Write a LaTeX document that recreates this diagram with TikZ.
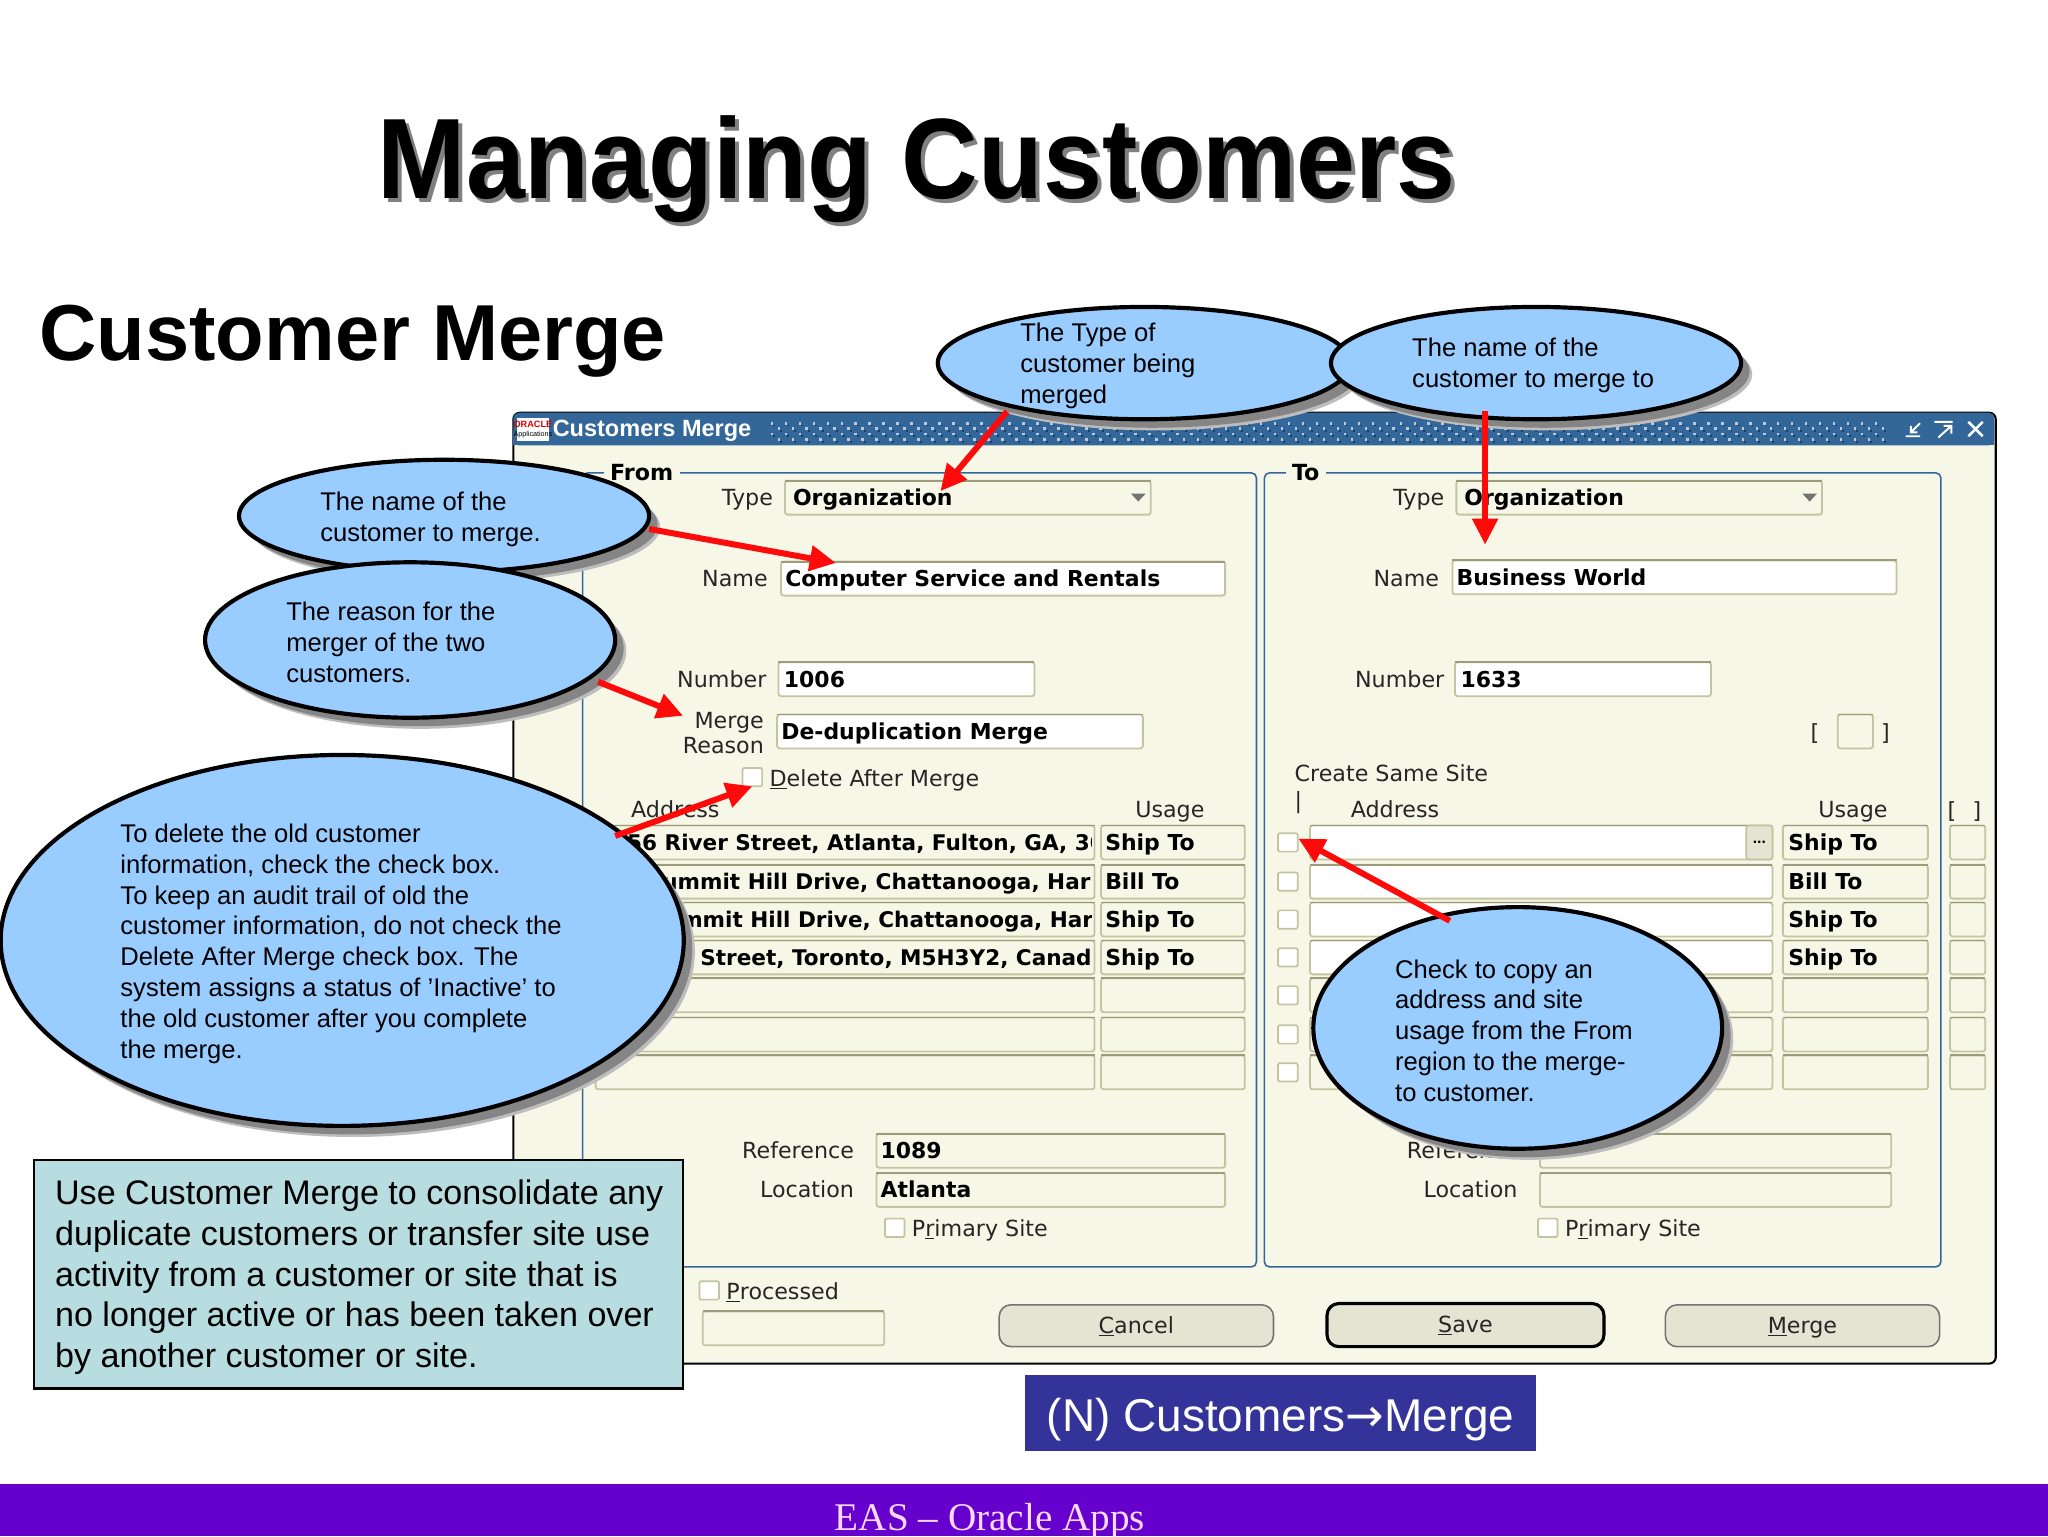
\documentclass[tikz,border=0pt]{standalone}
\usepackage{fontspec}
\setmainfont{Liberation Sans}
\newfontfamily\uifont{DejaVu Sans}
\newfontfamily\serfont{Liberation Serif}
\usetikzlibrary{shapes.geometric,arrows.meta,shadows}
\definecolor{dlg}{HTML}{F7F7E7}
\definecolor{barblue}{HTML}{336699}
\definecolor{fieldedge}{HTML}{C4C4A0}
\definecolor{fieldtopc}{HTML}{9C9C7C}
\definecolor{callblue}{HTML}{99CCFF}
\definecolor{shadowc}{HTML}{858585}
\definecolor{shadowl}{HTML}{BDBDBD}
\definecolor{notec}{HTML}{B7DDE0}
\definecolor{navc}{HTML}{333399}
\definecolor{footc}{HTML}{6600CC}
\definecolor{foott}{HTML}{FFD9FF}
\definecolor{btnc}{HTML}{E4E4D2}
\definecolor{arrowred}{HTML}{FF0A0A}
\tikzset{
  fieldbox/.style={draw=fieldedge,line width=1.4pt,rounded corners=2pt,inner sep=0pt,outer sep=0pt},
  fieldtop/.style={draw=fieldtopc,line width=1.4pt},
  lab/.style={font=\uifont\fontsize{17}{19}\selectfont,text=black!85,inner sep=0pt,anchor=base east},
  labl/.style={lab,anchor=base west},
  val/.style={font=\uifont\bfseries\fontsize{16.8}{19}\selectfont,text=black,inner sep=0pt,anchor=base west},
  rowval/.style={val,font=\uifont\bfseries\fontsize{16.5}{19}\selectfont},
  chk/.style={draw=fieldedge,line width=1.3pt,fill=white,inner sep=0pt,minimum width=15pt,minimum height=14pt,rounded corners=1pt},
  groupbox/.style={draw=barblue,line width=1.2pt,rounded corners=4pt},
  legend/.style={font=\uifont\bfseries\fontsize{17}{19}\selectfont,fill=dlg,inner xsep=5pt,inner ysep=1pt,anchor=base west},
  callout/.style={ellipse,draw=black,line width=3.2pt,fill=callblue,inner sep=0pt,
    general shadow={fill=shadowl,shadow xshift=8.5pt,shadow yshift=-8.5pt},
    general shadow={fill=shadowc,shadow xshift=6.5pt,shadow yshift=-6.5pt}},
  calltext/.style={font=\fontsize{19.6}{23.6}\selectfont,align=left,inner sep=0pt,anchor=west},
  redarrow/.style={draw=arrowred,fill=arrowred,line width=4.6pt,-{Triangle[length=20pt,width=19pt]}},
  btn/.style={draw=black!55,line width=1.2pt,fill=btnc,rounded corners=9pt,inner sep=0pt,minimum height=32pt,minimum width=210pt},
  btntext/.style={lab,anchor=base}
}
\newcommand{\fld}[6]{%
  \node[fieldbox,fill=#6,minimum width={(#4)-(#2)},minimum height={(#5)-(#3)}] (#1) at ({(#2+#4)/2},{(#3+#5)/2}) {};
  \draw[fieldtop] (#1.north west) -- (#1.north east);}
\begin{document}
\begin{tikzpicture}[x=1pt,y=-1pt]
\useasboundingbox (0,0) rectangle (1568,1176);
\fill[white] (0,0) rectangle (1568,1176);
% footer
\fill[footc] (0,1136) rectangle (1568,1176);
\node[font=\serfont\fontsize{30}{34}\selectfont,text=foott,inner sep=0pt,anchor=base] (foot) at (758,1172) {EAS – Oracle Apps};
% titles
\node[font=\bfseries\fontsize{85}{90}\selectfont,text=black!50,inner sep=0pt,anchor=base west,xscale=0.955,yscale=1.03,transform shape] (titleshadow) at (292,155) {Managing Customers};
\node[font=\bfseries\fontsize{85}{90}\selectfont,text=black,inner sep=0pt,anchor=base west,xscale=0.955,yscale=1.03,transform shape] (title) at (289,152) {Managing Customers};
\node[font=\bfseries\fontsize{60.8}{64}\selectfont,inner sep=0pt,anchor=base west] (sub) at (30,276) {Customer Merge};
% dialog
\draw[black,line width=1.6pt,fill=dlg,rounded corners=5pt] (393,316) rectangle (1528,1044);
\fill[barblue,rounded corners=4pt] (393,316) rectangle (1527,341);
\fill[barblue] (393,330) rectangle (1527,341);
\foreach \r in {0,1,2,3}{
  \pgfmathsetmacro{\off}{mod(\r,2)*5.3}
  \foreach \k in {0,...,79}{
    \fill[white!65!barblue] ({590+\off+\k*10.7},{323+\r*4.2}) rectangle ++(2,2);
    \fill[barblue!60!black] ({592+\off+\k*10.7},{325+\r*4.2}) rectangle ++(1.5,1.5);
  }
}
\fill[white] (396,320) rectangle (420,338);
\node[font=\bfseries\fontsize{7}{8}\selectfont,text=red!85!black,inner sep=0pt] (logo) at (408,325) {ORACLE};
\node[font=\fontsize{5.5}{6}\selectfont,text=black,inner sep=0pt] (logob) at (408,333) {Applications};
\node[font=\bfseries\fontsize{18}{20}\selectfont,text=white,inner sep=0pt,anchor=base west] (wintitle) at (423,334) {Customers Merge};
\draw[white,line width=1.5pt] (1459,334) -- (1470,334) (1470,324) -- (1463,331) (1463,326) -- (1463,331) -- (1468,331);
\draw[white,line width=1.5pt] (1481,323) -- (1495,323) (1494,326) -- (1484,335) (1488,326) -- (1494,326) -- (1494,332);
\draw[white,line width=2pt] (1507,323) -- (1518,334) (1518,323) -- (1507,334);
% groups
\draw[groupbox] (446,362) rectangle (962,970);
\draw[groupbox] (968,362) rectangle (1486,970);
\node[legend] (lfrom) at (462,368) {From};
\node[legend] (lto) at (984,368) {To};
% From fields
\node[lab] (ftypel) at (592,387) {Type};
\fld{ftype}{601}{368}{881}{394}{dlg}
\node[val] (ftypev) at (607,387) {Organization};
\fill[black!55] (866,378) -- (877,378) -- (871.5,384) -- cycle;
\node[lab] (fnamel) at (588,449) {Name};
\fld{fname}{598}{430}{938}{456}{white}
\node[val] (fnamev) at (601,449) {Computer Service and Rentals};
\node[lab] (fnuml) at (587,526) {Number};
\fld{fnum}{596}{507}{792}{533}{white}
\node[val] (fnumv) at (600,526) {1006};
\node[lab] (fmerl) at (585,558) {Merge};
\node[lab] (freal) at (585,577) {Reason};
\fld{fmer}{595}{547}{875}{573}{white}
\node[val] (fmerv) at (598,566) {De-duplication Merge};
\node[chk] (fdel) at (576,595) {};
\node[labl] (fdell) at (589,602) {\underline{D}elete After Merge};
\node[labl] (faddr) at (483,626) {Address};
\node[labl] (fusage) at (869,626) {Usage};
\foreach \i/\y in {1/645,2/675,3/704,4/733,5/762,6/792,7/821}{
  \fld{fa\i}{456}{\y-13}{838}{\y+13}{dlg}
  \fld{fu\i}{843}{\y-13}{953}{\y+13}{dlg}
}
\begin{scope}
\clip (456,632) rectangle (836,746);
\node[rowval] (fa1t) at (480,651) {56 River Street, Atlanta, Fulton, GA, 30};
\node[rowval] (fa2t) at (495,681) {Summit Hill Drive, Chattanooga, Har};
\node[rowval] (fa3t) at (497,710) {Summit Hill Drive, Chattanooga, Har};
\node[rowval] (fa4t) at (536,739) {Street, Toronto, M5H3Y2, Canad};
\end{scope}
\node[val] (fu1t) at (846,651) {Ship To};
\node[val] (fu2t) at (846,681) {Bill To};
\node[val] (fu3t) at (846,710) {Ship To};
\node[val] (fu4t) at (846,739) {Ship To};
\node[lab] (frefl) at (654,887) {Reference};
\fld{fref}{671}{868}{938}{894}{dlg}
\node[val] (frefv) at (674,887) {1089};
\node[lab] (flocl) at (654,917) {Location};
\fld{floc}{671}{898}{938}{924}{dlg}
\node[val] (flocv) at (674,917) {Atlanta};
\node[chk] (fpri) at (685,940) {};
\node[labl] (fpril) at (698,947) {P\underline{r}imary Site};
% To fields
\node[lab] (ttypel) at (1106,387) {Type};
\fld{ttype}{1115}{368}{1395}{394}{dlg}
\node[val] (ttypev) at (1121,387) {Organization};
\fill[black!55] (1380,378) -- (1391,378) -- (1385.5,384) -- cycle;
\node[lab] (tnamel) at (1102,449) {Name};
\fld{tname}{1112}{429}{1452}{455}{white}
\node[val] (tnamev) at (1115,448) {Business World};
\node[lab] (tnuml) at (1106,526) {Number};
\fld{tnum}{1114}{507}{1310}{533}{white}
\node[val] (tnumv) at (1118,526) {1633};
\node[labl] (tbl) at (1386,567) {[};
\fld{tbox}{1407}{547}{1434}{573}{dlg}
\node[labl] (tbr) at (1440,567) {]};
\node[labl] (tcreate) at (991,598) {Create Same Site};
\node[labl] (tbar) at (991,619) {|};
\node[labl] (taddr) at (1034,626) {Address};
\node[labl] (tusage) at (1392,626) {Usage};
\node[labl] (txl) at (1491,627) {[};
\node[labl] (txr) at (1510,627) {]};
\foreach \i/\y/\c in {1/645/white,2/675/white,3/704/white,4/733/white,5/762/dlg,6/792/dlg,7/821/dlg}{
  \node[chk] (tc\i) at (986,\y) {};
  \fld{ta\i}{1003}{\y-13}{1357}{\y+13}{\c}
  \fld{tu\i}{1365}{\y-13}{1476}{\y+13}{dlg}
  \fld{tx\i}{1493}{\y-13}{1520}{\y+13}{dlg}
}
\node[fieldbox,fill=btnc,minimum width=20pt,minimum height=26pt,font=\bfseries\fontsize{12}{12}\selectfont] (tdots) at (1347,645) {...};
\node[val] (tu1t) at (1369,651) {Ship To};
\node[val] (tu2t) at (1369,681) {Bill To};
\node[val] (tu3t) at (1369,710) {Ship To};
\node[val] (tu4t) at (1369,739) {Ship To};
\node[lab] (trefl) at (1163,887) {Reference};
\fld{tref}{1179}{868}{1448}{894}{dlg}
\node[lab] (tlocl) at (1162,917) {Location};
\fld{tloc}{1179}{898}{1448}{924}{dlg}
\node[chk] (tpri) at (1185,940) {};
\node[labl] (tpril) at (1198,947) {P\underline{r}imary Site};
% bottom row
\node[chk] (pchk) at (543,988) {};
\node[labl] (pl) at (556,995) {\underline{P}rocessed};
\fld{pf}{538}{1004}{677}{1030}{dlg}
\node[btn] (bcancel) at (870,1015) {};
\node[btntext] (bcancelt) at (870,1021) {\underline{C}ancel};
\node[btn,draw=black,line width=2.4pt,minimum width=212pt,minimum height=33pt] (bsave) at (1122,1014.5) {};
\node[btntext] (bsavet) at (1122,1020) {\underline{S}ave};
\node[btn] (bmerge) at (1380,1015) {};
\node[btntext] (bmerget) at (1380,1021) {\underline{M}erge};
% callouts
\node[callout,minimum width=316pt,minimum height=86pt] (cA) at (876,278) {};
\node[calltext] (tA) at (781,280) {The Type of\\customer being\\merged};
\node[callout,minimum width=314pt,minimum height=86pt] (cB) at (1176,278) {};
\node[calltext] (tB) at (1081,280) {The name of the\\customer to merge to};
\node[callout,minimum width=314pt,minimum height=86pt] (cC) at (340,395) {};
\node[calltext] (tC) at (245,397.5) {The name of the\\customer to merge.};
\node[callout,minimum width=314pt,minimum height=119pt] (cD) at (314,490) {};
\node[calltext] (tD) at (219,492) {The reason for the\\merger of the two\\customers.};
\node[callout,minimum width=523pt,minimum height=284pt] (cE) at (262,720) {};
\node[calltext] (tE) at (92,722.5) {To delete the old customer\\information, check the check box.\\To keep an audit trail of old the\\customer information, do not check the\\Delete After Merge check box. The\\system assigns a status of 'Inactive' to\\the old customer after you complete\\the merge.};
\node[callout,minimum width=313pt,minimum height=185pt] (cF) at (1162,787) {};
\node[calltext] (tF) at (1068,789) {Check to copy an\\address and site\\usage from the From\\region to the merge-\\to customer.};
% note and nav boxes
\node[draw=black,line width=1.8pt,fill=notec,minimum width=497pt,minimum height=175pt,inner sep=0pt] (note) at (274.5,975.5) {};
\node[font=\fontsize{26.1}{31.2}\selectfont,align=left,inner sep=0pt,anchor=west] (notet) at (42,978) {Use Customer Merge to consolidate any\\duplicate customers or transfer site use\\activity from a customer or site that is\\no longer active or has been taken over\\by another customer or site.};
\node[fill=navc,minimum width=391pt,minimum height=58pt,inner sep=0pt] (nav) at (980.5,1082) {};
\node[text=white,font=\fontsize{35.2}{40}\selectfont,inner sep=0pt,anchor=base] (navt) at (980.5,1096) {(N) Customers{\uifont →}Merge};
% arrows
\coordinate (sA) at (771,315);\coordinate (eA) at (720,376);
\coordinate (sB) at (1137,315);\coordinate (eB) at (1137,417);
\coordinate (sC) at (497,405);\coordinate (eC) at (640,431);
\coordinate (sD) at (458,522);\coordinate (eD) at (523,548);
\coordinate (sE) at (471,640);\coordinate (eE) at (576,602);
\coordinate (sF) at (1110,705);\coordinate (eF) at (994,642);
\draw[redarrow] (sA) -- (eA);
\draw[redarrow] (sB) -- (eB);
\draw[redarrow] (sC) -- (eC);
\draw[redarrow] (sD) -- (eD);
\draw[redarrow] (sE) -- (eE);
\draw[redarrow] (sF) -- (eF);
\end{tikzpicture}
\end{document}
